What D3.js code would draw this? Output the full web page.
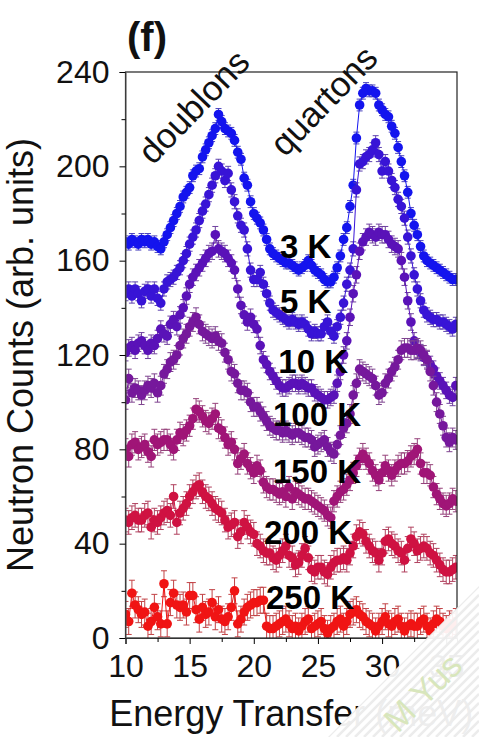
<!DOCTYPE html>
<html><head><meta charset="utf-8">
<script src="https://cdn.jsdelivr.net/npm/d3@7"></script>
<style>html,body{margin:0;padding:0;background:#fff;}svg{display:block;font-family:"Liberation Sans",Arial,sans-serif;}</style>
</head><body><svg id="c" width="479" height="737"></svg>
<script>
const energy = [10.0,10.25,10.5,10.75,11.0,11.25,11.5,11.75,12.0,12.25,12.5,12.75,13.0,13.25,13.5,13.75,14.0,14.25,14.5,14.75,15.0,15.25,15.5,15.75,16.0,16.25,16.5,16.75,17.0,17.25,17.5,17.75,18.0,18.25,18.5,18.75,19.0,19.25,19.5,19.75,20.0,20.25,20.5,20.75,21.0,21.25,21.5,21.75,22.0,22.25,22.5,22.75,23.0,23.25,23.5,23.75,24.0,24.25,24.5,24.75,25.0,25.25,25.5,25.75,26.0,26.25,26.5,26.75,27.0,27.25,27.5,27.75,28.0,28.25,28.5,28.75,29.0,29.25,29.5,29.75,30.0,30.25,30.5,30.75,31.0,31.25,31.5,31.75,32.0,32.25,32.5,32.75,33.0,33.25,33.5,33.75,34.0,34.25,34.5,34.75,35.0,35.25,35.5,35.75];

const counts3K = [168,167,169,168,167,169,168,169,167,168,166,165,168,171,174,177,180,183,187,189,191,196,198,199,204,207,210,213,216,222,219,216,215,214,211,206,203,195,192,185,180,178,176,173,169,165,163,162,161,160,159,159,158,157,156,157,158,160,158,156,155,154,152,151,151,153,157,162,169,174,183,192,212,226,231,233,232,232,231,226,224,222,221,217,214,208,202,196,189,180,175,171,166,162,160,159,158,157,156,155,154,153,152,152];
const counts5K = [146,148,145,148,146,143,147,148,145,148,144,142,148,151,152,153,155,157,160,163,167,170,173,177,181,184,188,192,196,200,198,194,197,190,185,179,175,173,165,156,152,152,155,150,146,142,139,138,137,136,135,134,135,134,133,134,133,131,129,130,129,129,132,134,130,128,132,136,142,150,156,165,190,201,202,204,205,207,210,205,198,202,198,194,191,186,183,178,170,162,154,148,143,139,137,136,135,135,134,134,133,132,131,133];
const counts10K = [121,123,124,122,125,126,124,122,125,124,127,131,129,128,133,135,132,137,140,145,150,153,155,157,159,161,163,164,171,165,164,163,161,159,156,148,141,137,134,136,133,131,124,118,116,113,111,109,107,106,106,107,108,108,107,108,107,106,106,104,103,102,101,101,102,103,108,113,120,126,136,146,154,164,168,170,172,171,170,172,171,171,169,167,166,165,160,153,143,134,126,122,121,119,118,116,114,111,109,107,105,103,102,107];
const counts100K = [101,110,104,106,105,103,105,107,106,108,104,107,112,114,117,118,120,124,127,129,132,134,136,133,130,129,128,127,128,126,125,121,118,113,112,108,105,105,104,100,98,98,96,94,92,90,89,88,88,87,88,87,86,87,87,86,85,85,84,81,82,83,84,81,79,78,82,86,89,91,95,103,108,114,113,112,111,110,107,103,104,108,110,113,115,118,122,123,123,122,122,123,122,120,118,113,107,100,95,90,85,83,85,84];
const counts150K = [80,77,82,83,80,81,82,79,77,84,82,83,84,84,82,80,84,87,86,88,90,93,97,96,94,92,91,93,95,89,88,85,82,83,80,74,76,78,74,72,70,73,71,66,64,63,63,62,61,62,60,64,59,62,61,60,59,59,58,57,56,55,54,52,51,58,60,62,63,65,67,70,73,76,78,76,74,71,69,67,70,73,71,69,71,73,74,74,75,77,78,80,74,70,70,69,64,61,59,57,56,57,59,58];
const counts200K = [50,49,51,52,50,50,52,53,47,50,49,51,53,54,52,60,49,53,55,57,60,62,64,65,62,60,59,57,55,54,53,50,47,48,49,43,45,49,47,45,44,40,39,37,36,36,34,33,35,37,39,35,34,31,32,35,38,34,29,28,30,30,28,27,30,32,33,33,34,33,36,39,43,45,44,41,39,37,36,33,36,41,42,40,39,37,36,33,38,42,40,37,38,39,38,36,35,33,31,29,28,28,29,30];
const counts250K = [10,7,19,14,12,10,11,5,7,13,9,6,23,6,15,19,14,13,14,11,18,18,12,8,13,10,11,15,9,12,8,7,9,13,20,6,8,11,13,14,15,15,16,16,5,4,4,5,6,7,8,6,4,5,3,5,7,8,4,5,6,7,4,2,4,5,7,8,5,7,10,11,12,10,9,7,6,5,3,5,7,9,6,5,7,8,5,3,5,6,5,5,7,8,5,3,6,8,7,5,4,6,5,7];

const seriesNames = ["3 K","5 K","10 K","100 K","150 K","200 K","250 K"];
const seriesColors = ["#1414ee","#3814d6","#5a12b8","#76189c","#a01577","#cf1242","#f01414"];
const seriesErrors = [2.5,3,3.5,4,4.5,5,5.5];
const seriesCounts = [counts3K,counts5K,counts10K,counts100K,counts150K,counts200K,counts250K];
const labelPos = [[280,258],[280,313],[348,373],[361,426],[361,483],[352,544],[354,609]];
const xTicks = [10,15,20,25,30,35];
const yTicks = [0,40,80,120,160,200,240];

const svg = d3.select("#c");
const L = 125.5, R = 457, T = 72, B = 638;
const x = d3.scaleLinear().domain([10,35.84]).range([L,R]);
const y = d3.scaleLinear().domain([0,240]).range([B,T]);

svg.append("defs").append("clipPath").attr("id","clip")
  .append("rect").attr("x",L).attr("y",T).attr("width",R-L).attr("height",B-T);

const plot = svg.append("g").attr("clip-path","url(#clip)");

seriesCounts.forEach((vals,si)=>{
  const col = seriesColors[si];
  const ecol = d3.interpolateRgb(col,"#8a7a80")(0.45);
  const e = seriesErrors[si];
  const g = plot.append("g");
  const pts = energy.map((E,i)=>({E, v: vals[i]}));
  const eb = g.append("g").attr("stroke",ecol).attr("stroke-width",1);
  pts.forEach(p=>{
    eb.append("line").attr("x1",x(p.E)).attr("x2",x(p.E)).attr("y1",y(p.v-e)).attr("y2",y(p.v+e));
    eb.append("line").attr("x1",x(p.E)-3).attr("x2",x(p.E)+3).attr("y1",y(p.v+e)).attr("y2",y(p.v+e));
    eb.append("line").attr("x1",x(p.E)-3).attr("x2",x(p.E)+3).attr("y1",y(p.v-e)).attr("y2",y(p.v-e));
  });
  g.append("path").datum(pts).attr("fill","none").attr("stroke",col).attr("stroke-width",1)
    .attr("d",d3.line().x(d=>x(d.E)).y(d=>y(d.v)));
  g.selectAll("circle").data(pts).join("circle")
    .attr("cx",d=>x(d.E)).attr("cy",d=>y(d.v)).attr("r",4.8).attr("fill",col);
});

// frame
svg.append("rect").attr("x",L).attr("y",T).attr("width",R-L).attr("height",B-T)
  .attr("fill","none").attr("stroke","#222").attr("stroke-width",1.2);

// axes
const xAxis = d3.axisBottom(x).tickValues(xTicks).tickSize(6).tickPadding(10).tickFormat(d3.format("d"));
const gx = svg.append("g").attr("transform",`translate(0,${B})`).call(xAxis);
gx.selectAll("text").attr("font-size",32).attr("fill","#111").attr("font-family","Liberation Sans, Arial, sans-serif");
gx.select(".domain").attr("stroke","#333");
const xMinor = d3.axisBottom(x).tickValues([12.5,17.5,22.5,27.5,32.5]).tickSize(4).tickFormat("");
svg.append("g").attr("transform",`translate(0,${B})`).call(xMinor).select(".domain").remove();

const yAxis = d3.axisLeft(y).tickValues(yTicks).tickSize(6).tickPadding(10);
const gy = svg.append("g").attr("transform",`translate(${L},0)`).call(yAxis);
gy.selectAll("text").attr("font-size",32).attr("fill","#111").attr("font-family","Liberation Sans, Arial, sans-serif");
gy.select(".domain").attr("stroke","#555");
const yMinor = d3.axisLeft(y).tickValues([20,60,100,140,180,220]).tickSize(4).tickFormat("");
svg.append("g").attr("transform",`translate(${L},0)`).call(yMinor).select(".domain").remove();

// axis titles
svg.append("text").attr("x",(L+R)/2).attr("y",726).attr("text-anchor","middle")
  .attr("font-size",36).attr("fill","#111").text("Energy Transfer (meV)");
svg.append("text").attr("transform",`translate(33,${(T+B)/2}) rotate(-90)`).attr("text-anchor","middle")
  .attr("font-size",36).attr("fill","#111").text("Neutron Counts (arb. units)");

// panel label
svg.append("text").attr("x",127).attr("y",51).attr("font-size",40).attr("font-weight","bold").attr("fill","#111").text("(f)");

// peak annotations
svg.append("text").attr("transform","translate(153,166) rotate(-46)").attr("font-size",35).attr("fill","#111").text("doublons");
svg.append("text").attr("transform","translate(285,158) rotate(-46)").attr("font-size",35).attr("fill","#111").text("quartons");

// temperature labels
seriesNames.forEach((n,i)=>{
  const p = labelPos[i];
  svg.append("text").attr("x",p[0]).attr("y",p[1]).attr("text-anchor", i<2 ? "start" : "end")
    .attr("font-size",33).attr("font-weight","bold").attr("fill","#000").text(n);
});

// watermark overlay (bottom-right corner)
const wm = svg.append("g");
wm.append("clipPath").attr("id","wmclip").append("polygon").attr("points","328,737 479,586 479,737");
const wg = wm.append("g").attr("clip-path","url(#wmclip)");
wg.append("polygon").attr("points","328,737 479,586 479,737").attr("fill","#fff").attr("opacity",0.93);
for(let k=0;k<40;k++){
  const c = 1065 + k*9;
  wg.append("line").attr("x1",c-737).attr("y1",737).attr("x2",479).attr("y2",c-479)
    .attr("stroke","#ececec").attr("stroke-width",2.5);
}
svg.append("text").attr("transform","translate(398,734) rotate(-45)").attr("font-size",34)
  .attr("fill","#d8e6bc").text("M Yus");
</script></body></html>
